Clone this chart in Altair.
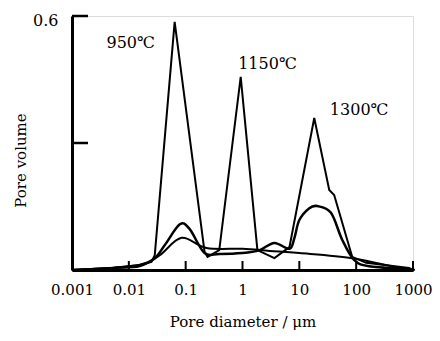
import altair as alt
import pandas as pd

# Curve A (spiky, three peaks)
x_a = [0.001, 0.0052, 0.0156, 0.025, 0.0286, 0.064, 0.215, 0.243, 0.39, 0.93, 1.83, 3.64, 6.7, 18.3, 33.6, 41, 85, 150, 850, 1000]
y_a = [0, 0.005, 0.012, 0.019, 0.035, 0.586, 0.043, 0.031, 0.047, 0.456, 0.047, 0.028, 0.054, 0.359, 0.189, 0.177, 0.031, 0.017, 0.005, 0]

# Curve B (two humps)
x_b = [0.001, 0.0052, 0.0156, 0.0286, 0.043, 0.079, 0.117, 0.215, 0.39, 1.0, 2.0, 3.64, 6.7, 8.2, 10, 15, 20.7, 36, 57, 92, 169, 850, 1000]
y_b = [0, 0.005, 0.012, 0.028, 0.059, 0.108, 0.097, 0.040, 0.038, 0.040, 0.047, 0.064, 0.050, 0.076, 0.118, 0.146, 0.151, 0.135, 0.071, 0.024, 0.009, 0.002, 0]

# Curve C (broad, low)
x_c = [0.001, 0.0052, 0.0156, 0.035, 0.085, 0.233, 1.0, 3.0, 10, 85, 567, 1000]
y_c = [0, 0.005, 0.009, 0.035, 0.076, 0.052, 0.050, 0.045, 0.040, 0.028, 0.005, 0]

# Temperature labels
label_text = ["950℃", "1150℃", "1300℃"]
label_x = [0.0108, 2.75, 113]
label_y = [0.536, 0.487, 0.378]

x_ticks = [0.001, 0.01, 0.1, 1, 10, 100, 1000]
y_ticks = [0.3, 0.6]

W, H = 341, 254
FONT = "DejaVu Serif"

df_a = pd.DataFrame({"d": x_a, "v": y_a})
df_b = pd.DataFrame({"d": x_b, "v": y_b})
df_c = pd.DataFrame({"d": x_c, "v": y_c})
df_lab = pd.DataFrame({"d": label_x, "v": label_y, "t": label_text})
df_xt = pd.DataFrame({"d": x_ticks[1:]})
df_yt = pd.DataFrame({"v": y_ticks})

xs = alt.Scale(type="log", domain=[0.001, 1000], nice=False)
ys = alt.Scale(domain=[0, 0.6], nice=False)

xaxis = alt.Axis(values=x_ticks, format="~g", ticks=False, grid=False, labelFlush=False,
                 labelFont=FONT, labelFontSize=15, labelColor="black", labelPadding=12,
                 domainColor="black", domainWidth=3,
                 title="Pore diameter /  μm", titleFont=FONT, titleFontSize=15,
                 titleFontWeight="normal", titleColor="black", titleY=44)
yaxis = alt.Axis(values=[0.6], format=".1f", ticks=False, grid=False,
                 labelFont=FONT, labelFontSize=16, labelColor="black", labelPadding=14,
                 labelOffset=4, domainColor="black", domainWidth=3,
                 title="Pore volume", titleFont=FONT, titleFontSize=15,
                 titleFontWeight="normal", titleColor="black", titleX=-44, titleY=144)

base_a = alt.Chart(df_a).mark_line(color="black", strokeWidth=2).encode(
    x=alt.X("d:Q", scale=xs, axis=xaxis),
    y=alt.Y("v:Q", scale=ys, axis=yaxis),
)
line_b = alt.Chart(df_b).mark_line(color="black", strokeWidth=2.5, interpolate="cardinal").encode(
    x=alt.X("d:Q", scale=xs), y=alt.Y("v:Q", scale=ys))
line_c = alt.Chart(df_c).mark_line(color="black", strokeWidth=2, interpolate="cardinal").encode(
    x=alt.X("d:Q", scale=xs), y=alt.Y("v:Q", scale=ys))

labels = alt.Chart(df_lab).mark_text(font=FONT, fontSize=16, color="black", align="center", baseline="middle").encode(
    x=alt.X("d:Q", scale=xs), y=alt.Y("v:Q", scale=ys), text="t:N")

xt = alt.Chart(df_xt).mark_rule(color="black", strokeWidth=2).encode(
    x=alt.X("d:Q", scale=xs), y=alt.value(H), y2=alt.value(H - 9))
yt = alt.Chart(df_yt).mark_rule(color="black", strokeWidth=2.5).encode(
    y=alt.Y("v:Q", scale=ys), x=alt.value(0), x2=alt.value(16))

chart = alt.layer(base_a, line_b, line_c, labels, xt, yt).properties(
    width=W, height=H,
    autosize=alt.AutoSizeParams(type="none"),
    padding={"left": 64, "top": 8, "right": 19, "bottom": 63},
).configure_view(stroke=None).configure(background="white")

chart.save("out.html", embed_options={"renderer": "svg", "actions": False})
